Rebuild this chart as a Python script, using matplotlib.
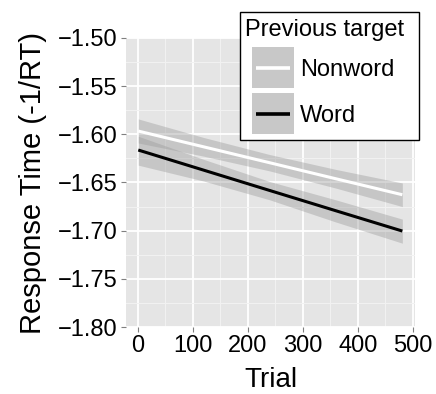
import matplotlib
matplotlib.use("Agg")
import numpy as np
import matplotlib.pyplot as plt
from matplotlib.patches import Rectangle
from matplotlib.lines import Line2D

plt.rcParams["font.family"] = ["Liberation Sans", "DejaVu Sans"]

# -----------------------------------------------------------------------------
# Data (fitted lines + confidence ribbons)
# -----------------------------------------------------------------------------
trial = [1, 120, 240, 360, 481]

nonword_fit = [-1.5966, -1.6130, -1.6295, -1.6461, -1.6627]
nonword_lo = [-1.6090, -1.6227, -1.6380, -1.6558, -1.6750]
nonword_hi = [-1.5840, -1.6033, -1.6210, -1.6364, -1.6505]

word_fit = [-1.6163, -1.6372, -1.6583, -1.6793, -1.7004]
word_lo = [-1.6320, -1.6485, -1.6680, -1.6910, -1.7130]
word_hi = [-1.6020, -1.6260, -1.6490, -1.6680, -1.6880]

groups = ["Nonword", "Word"]
line_colors = ["white", "black"]
x_ticks = [0, 100, 200, 300, 400, 500]
y_ticks = [-1.80, -1.75, -1.70, -1.65, -1.60, -1.55, -1.50]

ribbon = (0.6, 0.6, 0.6, 0.4)   # grey60, alpha .4
key_fill = "#C8C8C8"
panel_bg = "#E5E5E5"

W, H = 436, 394

# -----------------------------------------------------------------------------
# Figure
# -----------------------------------------------------------------------------
fig = plt.figure(figsize=(W / 100, H / 100), dpi=100)
ax = fig.add_axes([126 / W, 67 / H, 289 / W, 289 / H])
ax.set_facecolor(panel_bg)
for s in ax.spines.values():
    s.set_visible(False)

fits = [nonword_fit, word_fit]
los = [nonword_lo, word_lo]
his = [nonword_hi, word_hi]
for lo, hi in zip(los, his):
    ax.fill_between(trial, lo, hi, color=ribbon, linewidth=0, zorder=2)
for fit, col in zip(fits, line_colors):
    ax.plot(trial, fit, color=col, lw=2.2, solid_capstyle="butt", zorder=3)

ax.set_xlim(-21.3, 504)
ax.set_ylim(-1.80, -1.50)
ax.set_xticks(x_ticks)
ax.set_yticks(y_ticks)
ax.set_yticklabels([f"{v:.2f}".replace("-", "\u2212") for v in y_ticks])
ax.set_xticks([50, 150, 250, 350, 450], minor=True)
ax.set_yticks(np.arange(-1.775, -1.50, 0.05), minor=True)

ax.grid(True, which="major", color="white", lw=1.3, zorder=1)
ax.grid(True, which="minor", color="#F2F2F2", lw=0.7, zorder=1)
ax.set_axisbelow(True)
ax.tick_params(which="major", length=3.5, width=0.8, color="#7F7F7F",
               labelsize=17, pad=2.5)
ax.tick_params(which="minor", length=0)

ax.set_xlabel("Trial", fontsize=20, labelpad=7)
ax.set_ylabel("Response Time (-1/RT)", fontsize=21, labelpad=8)


# -----------------------------------------------------------------------------
# Legend drawn by hand (ggplot-style keys), positions in pixels from top-left
# -----------------------------------------------------------------------------
def fx(x):
    return x / W


def fy(y):
    return 1 - y / H


fig.patches.append(Rectangle((fx(240), fy(140)), fx(179), 128 / H,
                             transform=fig.transFigure, facecolor="white",
                             edgecolor="black", lw=1.0, zorder=10))
fig.text(fx(245), fy(36), "Previous target", fontsize=17, ha="left",
         va="baseline", zorder=11)
for i, (g, c) in enumerate(zip(groups, line_colors)):
    top = 47 + i * 46
    fig.patches.append(Rectangle((fx(252), fy(top + 41)), fx(42), 41 / H,
                                 transform=fig.transFigure,
                                 facecolor=key_fill, edgecolor="none",
                                 zorder=11))
    yc = fy(top + 20.5)
    fig.lines.append(Line2D([fx(256), fx(290)], [yc, yc],
                            transform=fig.transFigure, color=c, lw=2.6,
                            solid_capstyle="butt", zorder=12))
    fig.text(fx(300), yc, g, fontsize=17, ha="left", va="center_baseline",
             zorder=12)

fig.savefig("out.png", dpi=100)
